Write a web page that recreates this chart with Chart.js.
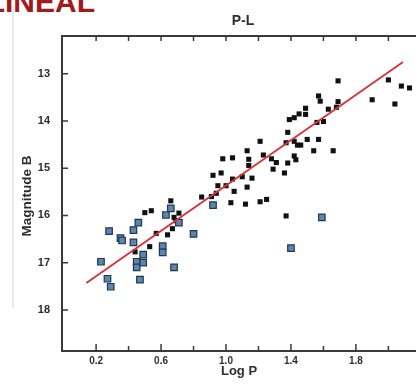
<!DOCTYPE html>
<html><head><meta charset="utf-8">
<script src="https://cdn.jsdelivr.net/npm/chart.js@4.4.1/dist/chart.umd.min.js"></script>
<style>
html,body{margin:0;padding:0;background:#fff;overflow:hidden;}
#wrap{position:relative;width:416px;height:389px;overflow:hidden;}
#bar{position:absolute;left:12px;top:6px;width:2px;height:302px;background:#e8e8e8;}
#head{position:absolute;right:321px;top:-13px;font:bold 30px "Liberation Sans",Arial,sans-serif;color:#a01c1c;white-space:nowrap;line-height:30px;}
canvas{position:absolute;left:0;top:0;}
</style></head><body>
<div id="wrap"><div id="bar"></div><div id="head">LINEAL</div><canvas id="c" width="416" height="389"></canvas></div>
<script>
// ---- data ----
const blackLogP = [0.95,1.00,1.05,0.85,0.91,0.94,0.66,1.03,0.50,0.54,0.68,0.71,0.69,0.67,0.57,0.64,0.53,0.44,
  0.92,0.97,0.98,1.04,1.04,1.10,1.16,1.13,1.14,1.14,1.13,1.12,1.21,1.25,1.37,1.21,1.23,1.28,1.31,1.29,1.36,1.38,
  1.37,1.38,1.39,1.42,1.42,1.44,1.42,1.43,1.45,1.49,1.49,1.56,1.60,1.57,1.58,1.69,1.69,1.68,1.63,1.50,1.57,1.46,
  1.54,1.66,1.90,2.00,2.08,2.13,2.04];
const blackMag = [15.37,15.37,15.49,15.61,15.60,15.53,15.69,15.73,15.94,15.90,16.04,15.95,16.11,16.28,16.38,16.41,16.66,16.77,
  15.15,15.10,14.80,14.78,15.23,15.18,15.21,14.63,14.81,14.94,15.40,15.76,15.71,15.66,16.01,14.43,14.72,14.80,14.88,15.02,15.10,14.89,
  14.46,14.24,13.97,13.93,14.43,14.51,14.74,14.82,13.85,13.86,13.73,14.03,14.01,13.47,13.58,13.15,13.59,13.71,13.75,14.39,14.39,14.51,
  14.63,14.63,13.55,13.13,13.26,13.30,13.64];
const blueLogP = [0.28,0.23,0.27,0.29,0.35,0.36,0.43,0.46,0.43,0.45,0.45,0.49,0.49,0.47,0.61,0.61,0.68,0.63,0.66,0.71,0.80,0.92,1.59,1.40];
const blueMag  = [16.33,16.98,17.34,17.51,16.48,16.53,16.31,16.15,16.57,16.98,17.10,17.00,16.83,17.36,16.65,16.78,17.10,15.99,15.85,16.15,16.39,15.78,16.04,16.69];
const fitLogP = [0.14, 2.09];
const fitMag  = [17.43, 12.75];
const xLabels = [0.2, 0.6, 1.0, 1.4, 1.8];
const xMinor  = [0.4, 0.8, 1.2, 1.6, 2.0];
const yLabels = [13, 14, 15, 16, 17, 18];

const pts = (xs, ys) => xs.map((v, i) => ({x: v, y: ys[i]}));
const FONT = '"Liberation Sans", Arial, sans-serif';
const INK = '#2e2e2e';

const framePlugin = {
  id: 'frame',
  afterDraw(chart) {
    const {ctx, chartArea: a, scales: {x, y}} = chart;
    ctx.save();
    ctx.strokeStyle = '#3a3a3a';
    ctx.lineWidth = 2;
    ctx.beginPath(); ctx.moveTo(a.left - 1, a.top); ctx.lineTo(a.right, a.top); ctx.stroke();
    ctx.lineWidth = 1.5;
    ctx.beginPath();
    xLabels.forEach(v => { const p = x.getPixelForValue(v);
      ctx.moveTo(p, a.bottom); ctx.lineTo(p, a.bottom - 7);
      ctx.moveTo(p, a.top); ctx.lineTo(p, a.top + 5); });
    xMinor.forEach(v => { const p = x.getPixelForValue(v);
      ctx.moveTo(p, a.bottom); ctx.lineTo(p, a.bottom - 5);
      ctx.moveTo(p, a.top); ctx.lineTo(p, a.top + 5); });
    yLabels.forEach(v => { const p = y.getPixelForValue(v);
      ctx.moveTo(a.left, p); ctx.lineTo(a.left + 6, p); });
    ctx.stroke();
    ctx.fillStyle = INK;
    ctx.textAlign = 'center'; ctx.textBaseline = 'middle';
    ctx.font = 'bold 14px ' + FONT;
    ctx.fillText('P-L', 243, 21);
    ctx.translate(27, 196); ctx.rotate(-Math.PI / 2);
    ctx.font = 'bold 13.5px ' + FONT;
    ctx.fillText('Magnitude B', 0, 0);
    ctx.restore();
  }
};

new Chart(document.getElementById('c'), {
  type: 'scatter',
  data: { datasets: [
    { type: 'line', data: pts(fitLogP, fitMag), borderColor: '#d8343c', borderWidth: 2, pointRadius: 0, fill: false, order: 0 },
    { data: pts(blackLogP, blackMag), pointStyle: 'rect', pointRadius: 3.6, backgroundColor: '#111', borderColor: '#111', borderWidth: 0, order: 2 },
    { data: pts(blueLogP, blueMag), pointStyle: 'rect', pointRadius: 4.6, backgroundColor: '#5a86b2', borderColor: '#22364d', borderWidth: 1.2, order: 1 }
  ]},
  options: {
    responsive: false, animation: false,
    layout: { autoPadding: false, padding: { top: 36, left: 0, right: 0, bottom: 0 } },
    plugins: { legend: { display: false }, tooltip: { enabled: false } },
    scales: {
      x: { type: 'linear', position: 'bottom', min: -0.01, max: 2.17,
        afterFit(s) { s.height = 38; },
        afterBuildTicks(s) { s.ticks = xLabels.map(v => ({value: v})); },
        grid: { display: false, drawTicks: false },
        border: { display: true, color: '#3a3a3a', width: 2 },
        ticks: { padding: 4, color: INK, font: { family: FONT, size: 10, weight: 'bold' }, callback: v => v.toFixed(1), maxRotation: 0 },
        title: { display: true, text: 'Log P', color: INK, font: { family: FONT, size: 13, weight: 'bold' }, padding: { top: 0, bottom: 10 } }
      },
      y: { type: 'linear', position: 'left', reverse: true, min: 12.2, max: 18.87,
        afterFit(s) { s.width = 62; },
        afterBuildTicks(s) { s.ticks = yLabels.map(v => ({value: v})); },
        grid: { display: false, drawTicks: false },
        border: { display: true, color: '#3a3a3a', width: 2 },
        ticks: { padding: 12, color: INK, font: { family: FONT, size: 11, weight: 'bold' } }
      }
    }
  },
  plugins: [framePlugin]
});
</script>
</body></html>
